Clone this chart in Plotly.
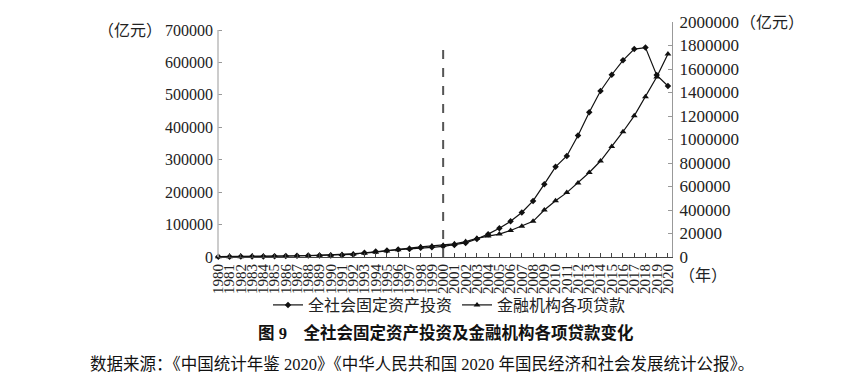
import plotly.graph_objects as go

years = list(range(1980, 2021))
invest = [910.9, 961.0, 1230.4, 1430.1, 1832.9, 2543.2, 3120.6, 3791.7, 4753.8, 4410.4,
          4517.0, 5594.5, 8080.1, 13072.3, 17042.1, 20019.3, 22913.5, 24941.1, 28406.2, 29854.7,
          32917.7, 37213.5, 43499.9, 55566.6, 70477.4, 88773.6, 109998.2, 137323.9, 172828.4, 224598.8,
          278121.9, 311485.1, 374694.7, 446294.1, 512020.7, 561999.8, 606465.7, 641238.4, 645675.0, 560874.3,
          527270.3]
loans = [2414.3, 2860.2, 3180.6, 3589.9, 4766.1, 5905.6, 7590.8, 9032.5, 10551.3, 14360.1,
         17511.0, 21116.4, 25742.8, 32943.1, 40810.1, 50544.1, 61156.6, 74914.1, 86524.1, 93734.3,
         99371.1, 112314.7, 131293.9, 158996.2, 178197.8, 194690.4, 225347.2, 261690.9, 303394.6, 399684.8,
         479195.6, 547946.7, 629909.6, 718961.5, 816770.0, 939540.2, 1066040.1, 1201320.9, 1362966.7, 1531123.2,
         1727452.0]

left_ticks = [0, 100000, 200000, 300000, 400000, 500000, 600000, 700000]
left_ticktext = ["0", "100000", "200000", "300000", "400000", "500000", "600000", "700000"]
right_ticks = [0, 200000, 400000, 600000, 800000, 1000000, 1200000, 1400000, 1600000, 1800000, 2000000]
right_ticktext = ["0", "20000", "400000", "600000", "800000", "1000000", "1200000",
                  "1400000", "1600000", "1800000", "2000000"]

name_invest = "全社会固定资产投资"
name_loans = "金融机构各项贷款"
caption = "图 9　全社会固定资产投资及金融机构各项贷款变化"
source = "数据来源：《中国统计年鉴 2020》《中华人民共和国 2020 年国民经济和社会发展统计公报》。"
unit = "（亿元）"
year_unit = "（年）"
split_year = 2000

# page body has an 8px margin; work in window pixels and subtract it
OFF = 8
W, H = 852 - OFF, 388 - OFF
L, R, T, B = 218, 672, 22, 257          # plot box in window pixels
pw, ph = R - L, B - T

def px(x):
    return (x - L) / pw

def py(y):
    return (B - y) / ph

serif = "Liberation Serif, Noto Sans CJK SC, serif"
cjk = "Liberation Serif, Noto Sans CJK SC, sans-serif"

left_top = 700000 * ph / (B - 30)

fig = go.Figure()
fig.add_trace(go.Scatter(
    x=years, y=invest, name=name_invest, mode="lines+markers",
    line=dict(color="#111", width=1.2),
    marker=dict(symbol="diamond", size=5, color="#111"),
    yaxis="y", cliponaxis=False))
fig.add_trace(go.Scatter(
    x=years, y=loans, name=name_loans, mode="lines+markers",
    line=dict(color="#111", width=1.2),
    marker=dict(symbol="triangle-up", size=6, color="#111"),
    yaxis="y2", cliponaxis=False))

fig.update_layout(
    width=W, height=H,
    margin=dict(l=L - OFF, r=852 - R, t=T - OFF, b=388 - B, pad=0),
    paper_bgcolor="white", plot_bgcolor="white",
    font=dict(family=serif, color="#222", size=16),
    xaxis=dict(range=[1979.97, 2020.36], tickmode="linear", tick0=1980, dtick=1,
               tickangle=-90, ticks="inside", ticklen=4, tickcolor="#444",
               showline=True, linecolor="#444", linewidth=1, showgrid=False, zeroline=False,
               tickfont=dict(family=serif, size=15, color="#222"), automargin=False),
    yaxis=dict(range=[0, left_top], tickvals=left_ticks, ticktext=left_ticktext,
               ticks="inside", ticklen=4,
               tickcolor="#999", showline=False, showgrid=False, zeroline=False,
               tickfont=dict(family=serif, size=16, color="#222"), ticklabelstandoff=4,
               automargin=False),
    yaxis2=dict(range=[0, 2000000], overlaying="y", side="right", tickvals=right_ticks,
                ticktext=right_ticktext, ticks="inside", ticklen=4, tickcolor="#999",
                showline=True, linecolor="#999", linewidth=1, showgrid=False, zeroline=False,
                tickfont=dict(family=serif, size=17, color="#222"), ticklabelstandoff=3,
                automargin=False),
    legend=dict(orientation="h", x=px(268), xanchor="left", y=py(305), yanchor="middle",
                font=dict(family=cjk, size=16, color="#222"), itemwidth=30,
                bgcolor="rgba(0,0,0,0)", tracegroupgap=0),
    showlegend=True,
)

# left axis line stops at the top tick
fig.add_shape(type="line", xref="paper", yref="y", x0=0, x1=0, y0=0, y1=700000,
              line=dict(color="#bbb", width=1.5))
# dashed separator
fig.add_shape(type="line", xref="x", yref="y", x0=split_year, x1=split_year, y0=0, y1=650000,
              line=dict(color="#555", width=2, dash="dash"))

fig.add_annotation(xref="paper", yref="paper", x=px(164), y=py(30), xanchor="right",
                   yanchor="middle", text=unit, showarrow=False,
                   font=dict(family=cjk, size=16, color="#222"))
fig.add_annotation(xref="paper", yref="paper", x=px(738), y=py(22), xanchor="left",
                   yanchor="middle", text=unit, showarrow=False,
                   font=dict(family=cjk, size=16, color="#222"))
fig.add_annotation(xref="paper", yref="paper", x=px(677), y=py(275), xanchor="left",
                   yanchor="middle", text=year_unit, showarrow=False,
                   font=dict(family=cjk, size=16, color="#222"))
fig.add_annotation(xref="paper", yref="paper", x=px(446), y=py(333), xanchor="center",
                   yanchor="middle", text="<b>" + caption + "</b>", showarrow=False,
                   font=dict(family=cjk, size=16.5, color="#111"))
fig.add_annotation(xref="paper", yref="paper", x=px(88), y=py(364), xanchor="left",
                   yanchor="middle", text=source, showarrow=False,
                   font=dict(family=cjk, size=16.5, color="#111"))

fig.write_html("out.html")
